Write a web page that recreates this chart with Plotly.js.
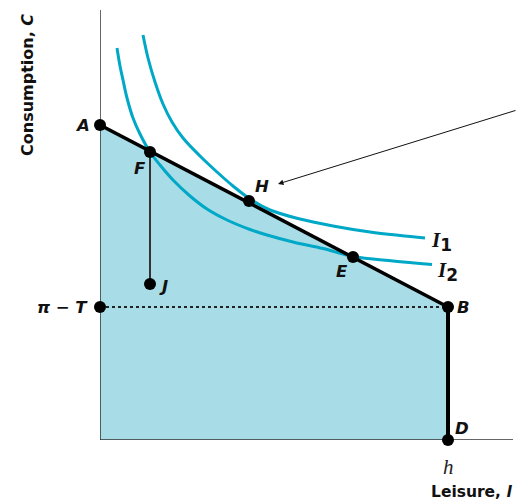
<!DOCTYPE html>
<html>
<head>
<meta charset="utf-8">
<script src="https://cdn.plot.ly/plotly-3.0.1.min.js"></script>
<style>html,body{margin:0;padding:0;background:#fff;}#chart{width:517px;height:503px;}</style>
</head>
<body>
<div id="chart"></div>
<script>
// Key points (leisure, consumption)
const pointNames = ['A', 'F', 'H', 'E', 'B', 'D', 'J', 'πT'];
const pointX = [0, 50, 149, 253, 348, 348, 50, 0];
const pointY = [315, 288, 239, 183, 133, 0, 156, 133];

// Indifference curve I1 (upper)
const i1X = [43, 48, 55, 63, 72, 83, 100, 117, 133, 150, 170, 200, 233, 270, 300, 325];
const i1Y = [405, 382, 358, 336, 318, 302, 284, 268, 254, 241, 230, 221, 214, 208, 204.5, 202];
// Indifference curve I2 (lower)
const i2X = [17, 20, 23, 27, 33, 40, 50, 60, 73, 90, 107, 127, 150, 167, 193, 223, 253, 293, 332];
const i2Y = [392, 374, 360, 342, 322, 306, 288, 275, 260, 244, 231, 220, 210.5, 205, 198, 191.5, 183.5, 179, 175.5];

const axisMaxX = 413, axisMaxY = 430;
const P = {};
pointNames.forEach((n, i) => P[n] = [pointX[i], pointY[i]]);

const blue = '#00a8c8';
const traces = [
  { // shaded budget set
    x: [0, P.A[0], P.B[0], P.D[0], 0], y: [0, P.A[1], P.B[1], P.D[1], 0],
    fill: 'toself', fillcolor: '#a8dce6', mode: 'lines', line: {width: 0}, hoverinfo: 'skip'
  },
  { x: [P['πT'][0], P.B[0]], y: [P['πT'][1], P.B[1]], mode: 'lines',
    line: {color: '#222', width: 2, dash: 'dot'} },
  { x: i2X, y: i2Y, mode: 'lines', line: {color: blue, width: 3, shape: 'spline', smoothing: 1} },
  { x: i1X, y: i1Y, mode: 'lines', line: {color: blue, width: 3, shape: 'spline', smoothing: 1} },
  { x: [P.F[0], P.J[0]], y: [P.F[1], P.J[1]], mode: 'lines', line: {color: '#333', width: 2} },
  { x: [0, axisMaxX], y: [0, 0], mode: 'lines', line: {color: '#333', width: 1.5} },
  { x: [0, 0], y: [0, axisMaxY], mode: 'lines', line: {color: '#333', width: 1.5} },
  { x: [P.A[0], P.B[0]], y: [P.A[1], P.B[1]], mode: 'lines', line: {color: '#000', width: 3.5} },
  { x: [P.B[0], P.D[0]], y: [P.B[1], P.D[1]], mode: 'lines', line: {color: '#000', width: 4} },
  { x: pointX, y: pointY, mode: 'markers', marker: {color: '#000', size: 12}, cliponaxis: false }
];

const lf = {family: 'DejaVu Sans, sans-serif', size: 16.5, color: '#111', weight: 'bold', style: 'italic'};
function lab(text, p, xs, ys, xa) {
  return {x: p[0], y: p[1], xref: 'x', yref: 'y', text: text, showarrow: false,
    xshift: xs, yshift: ys, xanchor: xa || 'center', yanchor: 'middle', font: lf};
}
const iFont = {family: 'Liberation Serif, serif', size: 21, color: '#111', weight: 'bold', style: 'italic'};
const annotations = [
  lab('A', P.A, -8, 0, 'right'),
  lab('F', P.F, -10, -16),
  lab('H', P.H, 13, 15),
  lab('E', P.E, -11, -14),
  lab('B', P.B, 15, 0),
  lab('D', P.D, 14, 12),
  lab('J', P.J, 13, -2),
  lab('π − T', P['πT'], -10, 0, 'right'),
  {x: P.D[0], y: 0, xref: 'x', yref: 'y', text: 'h', showarrow: false, yshift: -27, yanchor: 'middle',
   font: {family: 'Liberation Serif, serif', size: 21, color: '#222', style: 'italic'}},
  {x: i1X[i1X.length - 1], y: i1Y[i1Y.length - 1], xref: 'x', yref: 'y', xanchor: 'left', yanchor: 'middle',
   xshift: 4, yshift: -3, text: 'I<sub><span style="font-size:17px;font-family:DejaVu Sans;font-style:normal">1</span></sub>',
   showarrow: false, font: iFont},
  {x: i2X[i2X.length - 1], y: i2Y[i2Y.length - 1], xref: 'x', yref: 'y', xanchor: 'left', yanchor: 'middle',
   xshift: 3, yshift: -7, text: 'I<sub><span style="font-size:17px;font-family:DejaVu Sans;font-style:normal">2</span></sub>',
   showarrow: false, font: iFont},
  {x: 178, y: 256, xref: 'x', yref: 'y', ax: 417, ay: 330, axref: 'x', ayref: 'y',
   text: '', showarrow: true, arrowhead: 2, arrowsize: 1.1, arrowwidth: 1, arrowcolor: '#111'},
  {x: 0, y: 0.8256, xref: 'paper', yref: 'paper', xshift: -72, xanchor: 'center', yanchor: 'middle',
   text: 'Consumption, <i>C</i>', textangle: -90, showarrow: false,
   font: {family: 'DejaVu Sans, sans-serif', size: 16, color: '#111', weight: 'bold'}},
  {x: 0.8897, y: -0.121, xref: 'paper', yref: 'paper', xanchor: 'center', yanchor: 'middle',
   text: 'Leisure, <i>l</i>', showarrow: false,
   font: {family: 'DejaVu Sans, sans-serif', size: 15.5, color: '#111', weight: 'bold'}}
];

const layout = {
  width: 517, height: 503,
  margin: {l: 100, r: 0, t: 10, b: 63},
  paper_bgcolor: '#fff', plot_bgcolor: '#fff',
  showlegend: false,
  xaxis: {range: [0, 417], visible: false, fixedrange: true},
  yaxis: {range: [0, 430], visible: false, fixedrange: true},
  annotations: annotations
};
Plotly.newPlot('chart', traces, layout, {displayModeBar: false, staticPlot: true});
</script>
</body>
</html>
